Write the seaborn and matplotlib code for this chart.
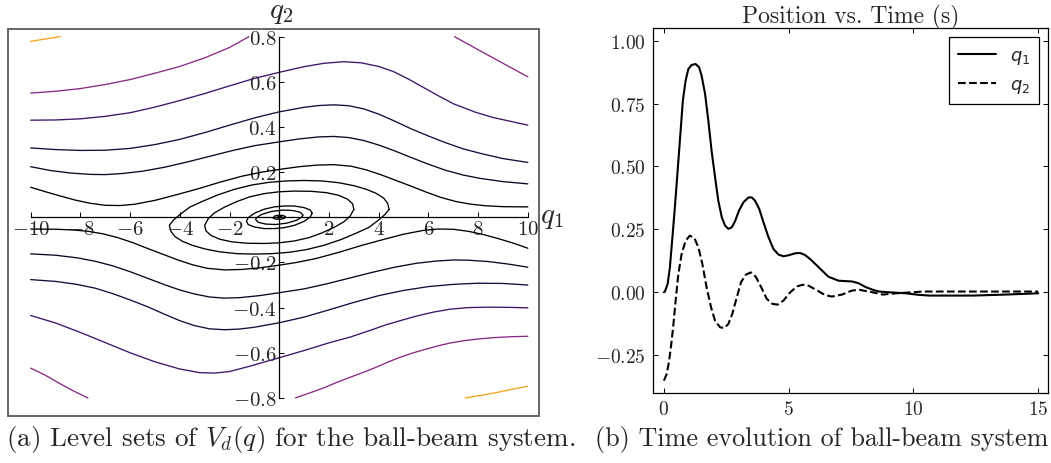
import numpy as np
import pandas as pd
import matplotlib
matplotlib.use("Agg")
import matplotlib.pyplot as plt
from matplotlib.patches import Rectangle
from matplotlib.font_manager import FontProperties
import seaborn as sns

# ---------------- data: level sets (q1, q2) ----------------
A_q1 = [-10.0, -9.4, -8.8]
A_q2 = [0.779, 0.790, 0.800]
B_q1 = [-10.0, -9.0, -8.0, -7.0, -6.0, -5.0, -4.0, -3.0, -2.0, -1.22]
B_q2 = [0.550, 0.558, 0.570, 0.588, 0.610, 0.638, 0.668, 0.706, 0.752, 0.800]
C_q1 = [-10.0, -9.0, -8.0, -7.0, -6.0, -5.0, -4.0, -3.0, -2.0, -1.0, 0.0, 1.0, 1.8, 2.6, 3.3, 4.0,
        4.6, 5.2, 5.8, 6.4, 7.0, 7.9, 8.6, 9.3, 10.0]
C_q2 = [0.430, 0.431, 0.436, 0.447, 0.463, 0.488, 0.517, 0.548, 0.582, 0.615, 0.642, 0.667, 0.682,
        0.689, 0.684, 0.668, 0.645, 0.612, 0.575, 0.538, 0.503, 0.465, 0.442, 0.425, 0.408]
D_q1 = [7.05, 8.0, 9.0, 10.0]
D_q2 = [0.800, 0.742, 0.682, 0.622]
E_q1 = [-10.0, -9.0, -8.0, -7.0, -6.0, -5.0, -4.0, -3.0, -2.0, -1.0, 0.0, 1.0, 1.6, 2.2, 2.8, 3.4,
        4.0, 4.6, 5.3, 6.0, 6.7, 7.4, 8.2, 9.0, 10.0]
E_q2 = [0.307, 0.300, 0.296, 0.297, 0.305, 0.322, 0.345, 0.375, 0.408, 0.440, 0.467, 0.487, 0.495,
        0.498, 0.494, 0.480, 0.457, 0.428, 0.392, 0.360, 0.330, 0.303, 0.280, 0.260, 0.243]
F_q1 = [-10.0, -9.2, -8.4, -7.6, -7.0, -6.3, -5.5, -4.6, -3.7, -2.8, -1.9, -1.0, 0.0, 0.8, 1.6, 2.2,
        2.8, 3.4, 4.0, 4.6, 5.3, 6.0, 6.7, 7.4, 8.1, 9.0, 10.0]
F_q2 = [0.224, 0.207, 0.196, 0.190, 0.189, 0.194, 0.204, 0.222, 0.245, 0.270, 0.295, 0.317, 0.334,
        0.347, 0.356, 0.358, 0.353, 0.340, 0.320, 0.296, 0.265, 0.235, 0.208, 0.187, 0.172, 0.158, 0.148]
G_q1 = [-10.0, -9.4, -8.8, -8.2, -7.6, -7.0, -6.4, -5.8, -5.0, -4.2, -3.3, -2.4, -1.5, -0.7, 0.0, 0.8,
        1.5, 2.2, 2.9, 3.5, 4.1, 4.7, 5.3, 5.9, 6.5, 7.1, 7.7, 8.3, 9.0, 10.0]
G_q2 = [0.133, 0.113, 0.094, 0.076, 0.062, 0.053, 0.052, 0.058, 0.075, 0.098, 0.125, 0.155, 0.182,
        0.200, 0.212, 0.224, 0.231, 0.233, 0.226, 0.210, 0.188, 0.163, 0.138, 0.112, 0.088, 0.070,
        0.058, 0.051, 0.047, 0.046]

Ar_q1 = [7.48, 8.1, 8.7, 9.4, 10.0]
Ar_q2 = [-0.800, -0.789, -0.777, -0.761, -0.748]
Br_q1 = [0.65, 1.3, 1.8, 2.3, 2.84, 3.4, 3.9, 4.4, 4.86, 5.4, 5.9, 6.4, 6.87, 7.4, 8.0, 8.6, 9.3, 10.0]
Br_q2 = [-0.800, -0.775, -0.755, -0.732, -0.709, -0.686, -0.664, -0.640, -0.620, -0.600, -0.584,
         -0.569, -0.557, -0.547, -0.539, -0.533, -0.529, -0.527]
Cr_q1 = [-10.0, -9.0, -8.0, -7.0, -6.0, -5.0, -4.0, -3.2, -2.6, -2.0, -1.2, 0.0, 1.0, 2.0, 2.84, 3.6,
         4.3, 4.86, 5.5, 6.2, 6.87, 7.6, 8.4, 9.3, 10.0]
Cr_q2 = [-0.435, -0.468, -0.510, -0.555, -0.600, -0.640, -0.672, -0.688, -0.690, -0.683, -0.660,
         -0.622, -0.590, -0.556, -0.531, -0.503, -0.476, -0.458, -0.438, -0.420, -0.407, -0.400,
         -0.398, -0.399, -0.401]
Dr_q1 = [-10.0, -9.4, -8.85, -8.3, -7.7]
Dr_q2 = [-0.668, -0.700, -0.735, -0.768, -0.800]
Er_q1 = [10.0, 9.0, 8.0, 7.0, 6.0, 5.0, 4.0, 3.0, 2.0, 1.0, 0.0, -1.0, -1.6, -2.2, -2.8, -3.4, -4.0,
         -4.6, -5.3, -6.0, -6.7, -7.4, -8.2, -9.0, -10.0]
Er_q2 = [-0.300, -0.293, -0.292, -0.297, -0.307, -0.324, -0.347, -0.377, -0.410, -0.442, -0.467,
         -0.487, -0.495, -0.498, -0.494, -0.480, -0.458, -0.430, -0.396, -0.366, -0.338, -0.314,
         -0.296, -0.284, -0.276]
Fr_q1 = [10.0, 9.2, 8.4, 7.6, 7.0, 6.3, 5.5, 4.6, 3.7, 2.8, 1.9, 1.0, 0.0, -0.8, -1.6, -2.2, -2.8,
         -3.4, -4.0, -4.6, -5.3, -6.0, -6.7, -7.4, -8.1, -9.0, -10.0]
Fr_q2 = [-0.221, -0.207, -0.196, -0.190, -0.189, -0.194, -0.204, -0.222, -0.245, -0.270, -0.295,
         -0.317, -0.334, -0.347, -0.356, -0.358, -0.353, -0.340, -0.322, -0.299, -0.270, -0.241,
         -0.215, -0.195, -0.180, -0.168, -0.162]
Gr_q1 = [10.0, 9.4, 8.8, 8.2, 7.6, 7.0, 6.4, 5.8, 5.0, 4.2, 3.3, 2.4, 1.5, 0.7, 0.0, -0.8, -1.5,
         -2.2, -2.9, -3.5, -4.1, -4.7, -5.3, -5.9, -6.5, -7.1, -7.7, -8.3, -9.0, -10.0]
Gr_q2 = [-0.137, -0.114, -0.094, -0.076, -0.062, -0.053, -0.052, -0.058, -0.075, -0.098, -0.125,
         -0.155, -0.182, -0.200, -0.212, -0.224, -0.231, -0.233, -0.226, -0.210, -0.188, -0.163,
         -0.138, -0.112, -0.090, -0.073, -0.062, -0.056, -0.053, -0.052]

# closed level sets around the origin
E1_q1 = [4.42, 4.36, 4.2, 3.9, 3.5, 3.0, 2.4, 1.7, 1.0, 0.3, -0.4, -1.1, -1.8, -2.5, -3.1, -3.6, -4.0,
         -4.25, -4.42, -4.36, -4.2, -3.9, -3.5, -3.0, -2.4, -1.7, -1.0, -0.3, 0.4, 1.1, 1.8, 2.5, 3.1,
         3.6, 4.0, 4.25, 4.42]
E1_q2 = [0.035, 0.062, 0.085, 0.106, 0.124, 0.140, 0.153, 0.161, 0.163, 0.161, 0.155, 0.143, 0.124,
         0.098, 0.070, 0.045, 0.012, -0.012, -0.035, -0.062, -0.085, -0.106, -0.124, -0.140, -0.153,
         -0.161, -0.163, -0.161, -0.155, -0.143, -0.124, -0.098, -0.070, -0.045, -0.012, 0.012, 0.035]
E2_q1 = [3.0, 2.95, 2.75, 2.4, 1.9, 1.3, 0.6, 0.0, -0.6, -1.2, -1.7, -2.2, -2.6, -2.85, -3.0, -2.95,
         -2.75, -2.4, -1.9, -1.3, -0.6, 0.0, 0.6, 1.2, 1.7, 2.2, 2.6, 2.85, 3.0]
E2_q2 = [0.035, 0.060, 0.080, 0.097, 0.109, 0.115, 0.116, 0.113, 0.105, 0.090, 0.070, 0.045, 0.020,
         -0.005, -0.035, -0.060, -0.080, -0.097, -0.109, -0.115, -0.116, -0.113, -0.105, -0.090,
         -0.070, -0.045, -0.020, 0.005, 0.035]
E3_q1 = [1.32, 1.25, 1.0, 0.6, 0.2, -0.2, -0.6, -1.0, -1.25, -1.32, -1.25, -1.0, -0.6, -0.2, 0.2, 0.6,
         1.0, 1.25, 1.32]
E3_q2 = [0.018, 0.032, 0.043, 0.050, 0.050, 0.046, 0.036, 0.018, -0.002, -0.018, -0.032, -0.043,
         -0.050, -0.050, -0.046, -0.036, -0.018, 0.002, 0.018]
E4_q1 = [0.95, 0.85, 0.55, 0.15, -0.3, -0.7, -0.92, -0.95, -0.85, -0.55, -0.15, 0.3, 0.7, 0.92, 0.95]
E4_q2 = [0.010, 0.022, 0.030, 0.032, 0.026, 0.013, -0.002, -0.010, -0.022, -0.030, -0.032, -0.026,
         -0.013, 0.002, 0.010]
E5_q1 = [0.25, 0.15, -0.05, -0.2, -0.25, -0.15, 0.05, 0.2, 0.25]
E5_q2 = [0.003, 0.008, 0.009, 0.005, -0.003, -0.008, -0.009, -0.005, 0.003]
E6_q1 = [0.1, 0.04, -0.06, -0.1, -0.04, 0.06, 0.1]
E6_q2 = [0.001, 0.003, 0.002, -0.001, -0.003, -0.002, 0.001]

ORANGE, PURPLE, INDIGO, DARK1, DARK2, BLACK = "#f7a31c", "#8a2a85", "#3c1569", "#170c3a", "#0b0724", "#000004"
level_sets = [
    (A_q1, A_q2, ORANGE), (Ar_q1, Ar_q2, ORANGE),
    (B_q1, B_q2, PURPLE), (Br_q1, Br_q2, PURPLE), (D_q1, D_q2, PURPLE), (Dr_q1, Dr_q2, PURPLE),
    (C_q1, C_q2, INDIGO), (Cr_q1, Cr_q2, INDIGO),
    (E_q1, E_q2, DARK1), (Er_q1, Er_q2, DARK1),
    (F_q1, F_q2, DARK2), (Fr_q1, Fr_q2, DARK2),
    (G_q1, G_q2, BLACK), (Gr_q1, Gr_q2, BLACK),
    (E1_q1, E1_q2, BLACK), (E2_q1, E2_q2, BLACK), (E3_q1, E3_q2, BLACK),
    (E4_q1, E4_q2, BLACK), (E5_q1, E5_q2, BLACK), (E6_q1, E6_q2, BLACK),
]

q1_ticks = [-10, -8, -6, -4, -2, 2, 4, 6, 8, 10]
q1_tick_labels = ["$-10$", "$-8$", "$-6$", "$-4$", "$-2$", "$2$", "$4$", "$6$", "$8$", "$10$"]
q2_ticks = [-0.8, -0.6, -0.4, -0.2, 0.2, 0.4, 0.6, 0.8]
q2_tick_labels = ["$-0.8$", "$-0.6$", "$-0.4$", "$-0.2$", "$0.2$", "$0.4$", "$0.6$", "$0.8$"]

# ---------------- data: time responses ----------------
t_q1 = [0.0, 0.04, 0.15, 0.24, 0.33, 0.44, 0.55, 0.66, 0.76, 0.87, 0.98, 1.11, 1.27, 1.41, 1.51, 1.65,
        1.78, 1.91, 2.05, 2.18, 2.32, 2.45, 2.58, 2.72, 2.85, 3.01, 3.19, 3.39, 3.52, 3.65, 3.82, 3.99,
        4.19, 4.39, 4.59, 4.79, 4.99, 5.26, 5.46, 5.66, 5.86, 6.04, 6.3, 6.59, 7.0, 7.54, 7.8, 8.1,
        8.4, 8.63, 9.03, 9.7, 10.2, 10.64, 12.39, 13.7, 15.0]
q1_vals = [0.0, 0.003, 0.033, 0.099, 0.205, 0.338, 0.483, 0.629, 0.762, 0.841, 0.887, 0.903, 0.907,
           0.894, 0.861, 0.788, 0.682, 0.563, 0.457, 0.364, 0.298, 0.265, 0.252, 0.258, 0.282, 0.325,
           0.358, 0.377, 0.377, 0.364, 0.331, 0.278, 0.219, 0.172, 0.150, 0.143, 0.147, 0.155, 0.156,
           0.148, 0.132, 0.115, 0.090, 0.062, 0.046, 0.043, 0.036, 0.020, 0.009, 0.003, 0.0, -0.004,
           -0.010, -0.013, -0.013, -0.009, -0.004]
t_q2 = [0.0, 0.11, 0.20, 0.28, 0.37, 0.47, 0.58, 0.71, 0.87, 1.04, 1.22, 1.38, 1.54, 1.71, 1.89, 2.05,
        2.25, 2.42, 2.58, 2.74, 2.92, 3.09, 3.28, 3.49, 3.68, 3.90, 4.12, 4.35, 4.56, 4.79, 5.06, 5.33,
        5.56, 5.80, 6.04, 6.46, 6.73, 7.14, 7.54, 7.83, 8.36, 8.77, 9.3, 10.4, 12.4, 15.0]
q2_vals = [-0.351, -0.325, -0.278, -0.219, -0.139, -0.033, 0.073, 0.152, 0.205, 0.225, 0.216, 0.179,
           0.113, 0.020, -0.060, -0.113, -0.139, -0.142, -0.126, -0.086, -0.020, 0.040, 0.070, 0.079,
           0.062, 0.020, -0.026, -0.046, -0.049, -0.033, 0.0, 0.023, 0.030, 0.026, 0.013, -0.011,
           -0.017, -0.009, 0.007, 0.010, 0.0, -0.009, -0.004, 0.003, 0.003, 0.003]
series_labels = ["$q_1$", "$q_2$"]
t_ticks = [0, 5, 10, 15]
t_tick_labels = ["$0$", "$5$", "$10$", "$15$"]
pos_ticks = [-0.25, 0.0, 0.25, 0.5, 0.75, 1.0]
pos_tick_labels = ["$-0.25$", "$0.00$", "$0.25$", "$0.50$", "$0.75$", "$1.00$"]

title_text = "Position vs. Time (s)"
caption_a = "(a) Level sets of $V_d(q)$ for the ball-beam system."
caption_b = "(b) Time evolution of ball-beam system"

# ---------------- style ----------------
sns.set_theme(style="white")
plt.rcParams["font.family"] = ["cmr10", "DejaVu Serif"]
plt.rcParams["mathtext.fontset"] = "cm"
plt.rcParams["axes.unicode_minus"] = False

fig = plt.figure(figsize=(10.51, 4.64), dpi=100)

# ---------------- left: level sets ----------------
ax1 = fig.add_axes([0.0079, 0.1013, 0.5052, 0.8351])
for xs, ys, col in level_sets:
    sns.lineplot(x=xs, y=ys, sort=False, estimator=None, color=col, lw=0.95, ax=ax1)
ax1.set_xlim(-10.90, 10.46)
ax1.set_ylim(-0.880, 0.836)
for s in ["top", "right"]:
    ax1.spines[s].set_visible(False)
ax1.spines["left"].set_position(("data", 0))
ax1.spines["bottom"].set_position(("data", 0))
ax1.spines["left"].set_bounds(-0.8, 0.8)
ax1.spines["bottom"].set_bounds(-10, 10)
for s in ["left", "bottom"]:
    ax1.spines[s].set_color("black")
    ax1.spines[s].set_linewidth(0.9)
ax1.set_xticks(q1_ticks, q1_tick_labels)
ax1.set_yticks(q2_ticks, q2_tick_labels)
ax1.tick_params(axis="both", direction="in", length=3.5, width=0.7, color="black",
                labelsize=15, pad=2, bottom=True, left=True)
ax1.add_patch(Rectangle((0, 0), 1, 1, transform=ax1.transAxes, fill=False,
                        edgecolor="#5a5a5a", lw=1.3, clip_on=False, zorder=5))
ax1.annotate("$q_1$", xy=(10, 0), xytext=(9, 0), textcoords="offset points",
             ha="left", va="center", fontsize=21, annotation_clip=False)
ax1.annotate("$q_2$", xy=(0, 0.8), xytext=(1, 18), textcoords="offset points",
             ha="center", va="center", fontsize=21, annotation_clip=False)

# ---------------- right: time evolution ----------------
ax2 = fig.add_axes([0.6210, 0.1509, 0.3766, 0.7866])
sns.lineplot(x=t_q1, y=q1_vals, color="black", lw=1.5, label=series_labels[0], ax=ax2)
sns.lineplot(x=t_q2, y=q2_vals, color="black", lw=1.5, linestyle="--", label=series_labels[1], ax=ax2)
ax2.set_xlim(-0.45, 15.41)
ax2.set_ylim(-0.40, 1.05)
ax2.set_xticks(t_ticks, t_tick_labels)
ax2.set_yticks(pos_ticks, pos_tick_labels)
ax2.tick_params(axis="both", direction="in", length=3.5, width=0.7, color="black",
                labelsize=14, pad=5, top=True, right=True, bottom=True, left=True)
for s in ax2.spines.values():
    s.set_color("black")
    s.set_linewidth(0.9)
ax2.set_title(title_text, fontsize=17, pad=4)
leg = ax2.legend(loc="upper right", fancybox=False, framealpha=1, edgecolor="black",
                 handlelength=2.1, labelspacing=0.5, borderpad=0.5,
                 prop=FontProperties(family="DejaVu Sans", size=13, math_fontfamily="dejavusans"))
leg.get_frame().set_linewidth(0.9)

# ---------------- captions ----------------
fig.text(0.277, 0.052, caption_a, ha="center", va="center", fontsize=19.5)
fig.text(0.566, 0.052, caption_b, ha="left", va="center", fontsize=18.8)

fig.savefig("out.png", dpi=100)
